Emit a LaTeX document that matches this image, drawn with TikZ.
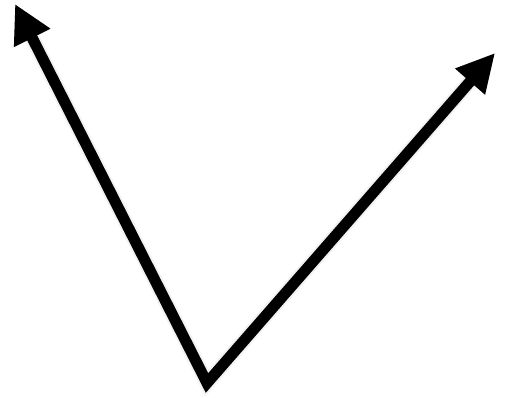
\documentclass[tikz,border=0pt]{standalone}
\usetikzlibrary{arrows.meta}
\begin{document}
\begin{tikzpicture}[x=1pt,y=-1pt,
  vec/.style={line width=11pt, line join=miter, miter limit=10,
    {Triangle[length=38pt,width=38pt]}-{Triangle[length=38pt,width=37pt]}},
  vecshadow/.style={vec, draw=black!25, opacity=0.5}]
\useasboundingbox (0,0) rectangle (505,397);
\coordinate (tl) at (15,4);
\coordinate (b) at (207,383);
\coordinate (tr) at (495,53);
\begin{scope}[shift={(4,5)}]
\draw[vecshadow, draw=black!10, line width=15pt] (tl) -- (b) -- (tr);
\draw[vecshadow] (tl) -- (b) -- (tr);
\end{scope}
\draw[vec] (tl) -- (b) -- (tr);
\end{tikzpicture}
\end{document}
